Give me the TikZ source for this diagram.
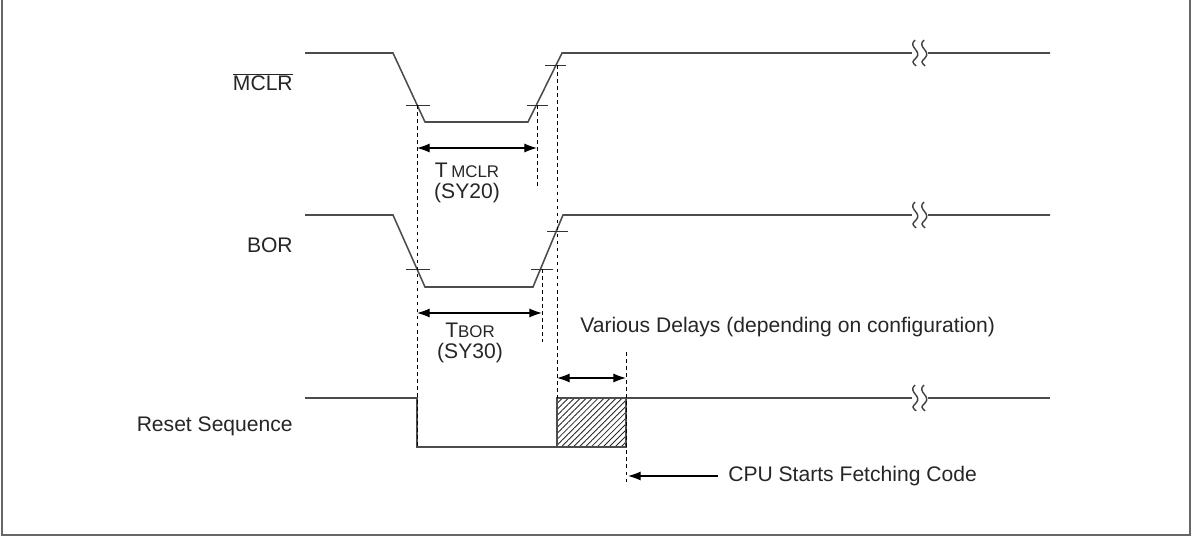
\documentclass[tikz,border=0pt]{standalone}
\usepackage{fontspec}
\setmainfont{Liberation Sans}
\usetikzlibrary{arrows.meta,patterns.meta}
\begin{document}
\begin{tikzpicture}[x=0.025cm,y=-0.025cm,
  sig/.style={draw=black!70,line width=1.1pt},
  tick/.style={draw=black!80,line width=0.7pt},
  dot/.style={draw=black,line width=0.7pt,dash pattern=on 2.5pt off 2.5pt},
  dim/.style={draw=black,line width=0.9pt,{Latex[length=9pt,width=6.5pt]}-{Latex[length=9pt,width=6.5pt]}},
  lbl/.style={font=\fontsize{15}{17}\selectfont,inner sep=0pt,text=black!85}]
\useasboundingbox (0,0) rectangle (1193,537);
\draw[black!60,line width=0.8pt] (2,0) -- (2,535) -- (1190,535) -- (1190,0);
% MCLR
\draw[sig] (305,53) -- (393,53) -- (425,122) -- (528,122) -- (562,53) -- (1050,53);
\draw[tick] (406,105) -- (430,105) (527,105) -- (548,105) (545,65) -- (566,65);
% BOR
\draw[sig] (305,215) -- (393,215) -- (425,287) -- (533,287) -- (563,215) -- (1050,215);
\draw[tick] (406,269) -- (430,269) (531,269) -- (553,269) (547,231) -- (568,231);
% Reset
\draw[sig] (305,398) -- (417,398) -- (417,447) -- (557,447);
\fill[pattern={Lines[angle=45,distance=3pt,line width=0.6pt]},pattern color=black!85] (557,398) rectangle (626,447);
\draw[sig] (557,398) rectangle (626,447);
\draw[sig] (626,398) -- (1050,398);
% break marks
\foreach \y in {53,215,398}{
  \fill[white] (912,\y-9) rectangle (928,\y+9);
  \draw[black!75,line width=1pt] (915,\y-13) .. controls (907,\y-6) and (923,\y-2) .. (916,\y+5) .. controls (912,\y+9) .. (916,\y+13);
  \draw[black!75,line width=1pt] (924,\y-13) .. controls (916,\y-6) and (932,\y-2) .. (925,\y+5) .. controls (921,\y+9) .. (925,\y+13);
}
% dotted lines
\coordinate (d1t) at (417,105); \coordinate (d1b) at (417,447);
\coordinate (d2t) at (537,105); \coordinate (d2b) at (537,187);
\coordinate (d3t) at (542,269); \coordinate (d3b) at (542,342);
\coordinate (d4t) at (557,65); \coordinate (d4b) at (557,398);
\coordinate (d5t) at (626,352); \coordinate (d5b) at (626,485);
\foreach \n in {1,...,5}{\draw[dot] (d\n t) -- (d\n b);}
% dimensions
\coordinate (a1) at (417,148); \coordinate (a2) at (537,148);
\draw[dim] (a1) -- (a2);
\coordinate (b1) at (417,313); \coordinate (b2) at (542,313);
\draw[dim] (b1) -- (b2);
\coordinate (c1) at (557,378); \coordinate (c2) at (626,378);
\draw[dim] (c1) -- (c2);
\coordinate (e1) at (718,476); \coordinate (e2) at (628,476);
\draw[draw=black,line width=0.9pt,-{Latex[length=9pt,width=6.5pt]}] (e1) -- (e2);
% labels
\node[lbl] (tm) at (467,170) {T\,{\fontsize{12}{14}\selectfont MCLR}};
\node[lbl] (sy20) at (467,193) {(SY20)};
\node[lbl] (tb) at (470,330) {T{\fontsize{12}{14}\selectfont BOR}};
\node[lbl] (sy30) at (470,353) {(SY30)};
\node[lbl,anchor=west] (vd) at (580,327) {Various Delays (depending on configuration)};
\node[lbl,anchor=west] (cpu) at (728,476) {CPU Starts Fetching Code};
\node[lbl,anchor=east] (mclr) at (293,82) {$\overline{\mbox{MCLR}}$};
\node[lbl,anchor=east] (bor) at (293,245) {BOR};
\node[lbl,anchor=east] (rs) at (293,426) {Reset Sequence};
\end{tikzpicture}
\end{document}
